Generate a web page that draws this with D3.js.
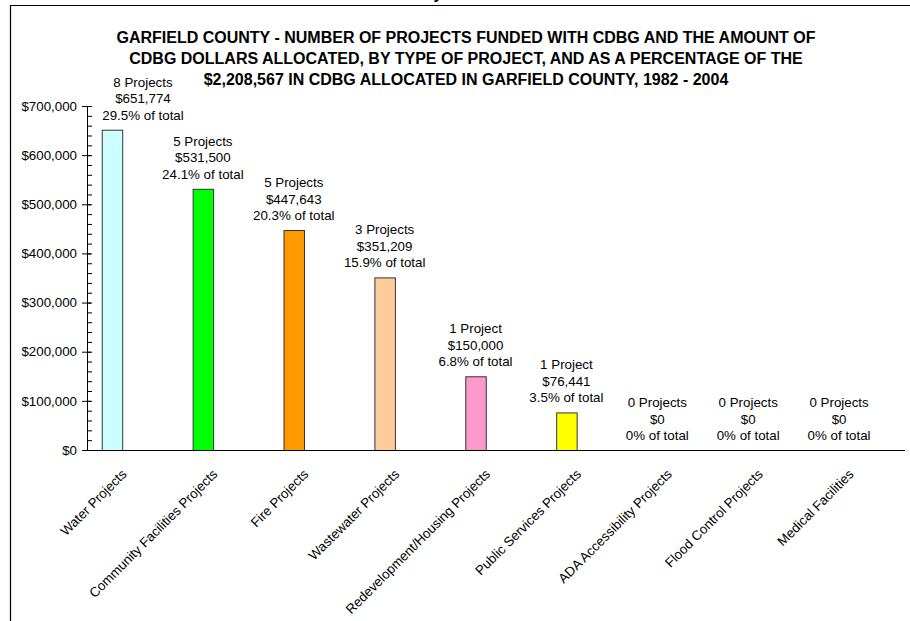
<!DOCTYPE html>
<html>
<head>
<meta charset="utf-8">
<script src="https://cdn.jsdelivr.net/npm/d3@7"></script>
<style>
  body { margin: 0; background: #fff; }
  svg { display: block; font-family: Arial, "Liberation Sans", sans-serif; }
</style>
</head>
<body>
<svg id="chart" width="910" height="621"></svg>
<script>
// Chart data
const categories = [
  "Water Projects",
  "Community Facilities Projects",
  "Fire Projects",
  "Wastewater Projects",
  "Redevelopment/Housing Projects",
  "Public Services Projects",
  "ADA Accessibility Projects",
  "Flood Control Projects",
  "Medical Facilities"
];
const amounts = [651774, 531500, 447643, 351209, 150000, 76441, 0, 0, 0];
const projectCounts = [8, 5, 5, 3, 1, 1, 0, 0, 0];
const percentLabels = ["29.5%", "24.1%", "20.3%", "15.9%", "6.8%", "3.5%", "0%", "0%", "0%"];
const barColors = ["#ccffff", "#00ff00", "#ff9900", "#ffcc99", "#ff99cc", "#ffff00", "#ccffff", "#ccffff", "#ccffff"];
const yTicks = [0, 100000, 200000, 300000, 400000, 500000, 600000, 700000];
const titleLines = [
  "GARFIELD COUNTY - NUMBER OF PROJECTS FUNDED WITH CDBG AND THE AMOUNT OF",
  "CDBG DOLLARS ALLOCATED, BY TYPE OF PROJECT, AND AS A PERCENTAGE OF THE",
  "$2,208,567 IN CDBG ALLOCATED IN GARFIELD COUNTY, 1982 - 2004"
];

const data = categories.map((c, i) => ({
  category: c,
  amount: amounts[i],
  count: projectCounts[i],
  pct: percentLabels[i],
  color: barColors[i]
}));

const svg = d3.select("#chart");
const plot = { left: 87, right: 905, top: 106, bottom: 450 };
const fontSize = 13.33;

// frame around the chart object (right and bottom edges are off the page)
svg.append("path")
  .attr("d", `M10.5,621 V5.5 H910`)
  .attr("fill", "none")
  .attr("stroke", "#000")
  .attr("stroke-width", 1.2);

// descender of the heading above the chart, cut off by the page edge
svg.append("text")
  .attr("x", 438).attr("y", -1)
  .attr("text-anchor", "middle")
  .attr("font-weight", "bold")
  .attr("font-size", 16)
  .text("y");

// title
svg.append("g").selectAll("text")
  .data(titleLines)
  .join("text")
  .attr("x", 466)
  .attr("y", (d, i) => 42.5 + i * 21)
  .attr("text-anchor", "middle")
  .attr("font-weight", "bold")
  .attr("font-size", 16)
  .text(d => d);

// scales
const x = d3.scaleBand()
  .domain(categories)
  .range([plot.left, plot.right])
  .padding(0);

// Excel clustered layout: 3 series slots per category, only the first one is drawn
const xSlot = d3.scaleBand()
  .domain([0, 1, 2])
  .range([0, x.bandwidth()])
  .paddingInner(0)
  .paddingOuter(0.72);

const y = d3.scaleLinear()
  .domain([0, 700000])
  .range([plot.bottom, plot.top]);

// y axis: minor ticks inside
svg.append("g")
  .attr("transform", `translate(${plot.left},0)`)
  .call(d3.axisRight(y).tickValues(d3.range(0, 700001, 20000)).tickSize(5).tickFormat(""))
  .call(g => g.select(".domain").remove())
  .selectAll("line").attr("stroke", "#000");

// y axis: major ticks crossing + labels
const yAxis = svg.append("g")
  .attr("transform", `translate(${plot.left},0)`)
  .call(d3.axisLeft(y).tickValues(yTicks).tickSize(5).tickSizeOuter(0).tickPadding(5)
    .tickFormat(d => "$" + d3.format(",")(d)));
yAxis.select(".domain").attr("stroke", "#000");
yAxis.selectAll(".tick line").attr("x2", -5).attr("x1", 4).attr("stroke", "#000");
yAxis.selectAll(".tick text")
  .attr("font-size", fontSize)
  .attr("font-family", "Arial, 'Liberation Sans', sans-serif")
  .attr("fill", "#000");

// bars
const barX = d => x(d.category) + xSlot(0);
svg.append("g").selectAll("rect")
  .data(data.filter(d => d.amount > 0))
  .join("rect")
  .attr("x", d => barX(d) + 0.5)
  .attr("y", d => y(d.amount) + 0.5)
  .attr("width", xSlot.bandwidth())
  .attr("height", d => y(0) - y(d.amount))
  .attr("fill", d => d.color)
  .attr("stroke", "#333")
  .attr("stroke-width", 1);

// x axis line
svg.append("line")
  .attr("x1", plot.left).attr("x2", plot.right)
  .attr("y1", plot.bottom + 0.5).attr("y2", plot.bottom + 0.5)
  .attr("stroke", "#000")
  .attr("stroke-width", 1.2);

// value labels (the first one was nudged right, away from the axis)
const labels = svg.append("g").selectAll("text")
  .data(data)
  .join("text")
  .attr("text-anchor", "middle")
  .attr("font-size", fontSize)
  .attr("fill", "#000")
  .attr("transform", (d, i) => {
    const cx = barX(d) + xSlot.bandwidth() / 2 + (i === 0 ? 31 : 0);
    return `translate(${cx},${y(d.amount) - 10})`;
  });
labels.each(function(d) {
  const lines = [
    d.count + (d.count === 1 ? " Project" : " Projects"),
    "$" + d3.format(",")(d.amount),
    d.pct + " of total"
  ];
  d3.select(this).selectAll("tspan")
    .data(lines)
    .join("tspan")
    .attr("x", 0)
    .attr("y", (l, j) => (j - 2) * 16.5)
    .text(l => l);
});

// category labels, rotated 45 degrees
svg.append("g").selectAll("text")
  .data(categories)
  .join("text")
  .attr("text-anchor", "end")
  .attr("font-size", fontSize)
  .attr("fill", "#000")
  .attr("transform", d => `translate(${x(d) + x.bandwidth() / 2 - 5},${plot.bottom + 25}) rotate(-45)`)
  .text(d => d);
</script>
</body>
</html>
